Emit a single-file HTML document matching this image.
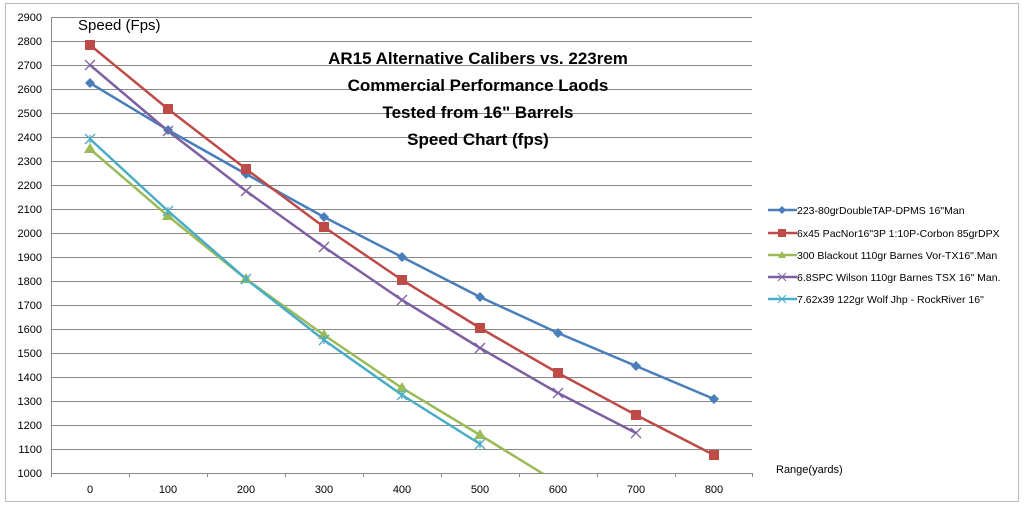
<!DOCTYPE html><html><head><style>body{margin:0;background:#fff}svg{display:block;font-family:"Liberation Sans",sans-serif}</style></head><body>
<svg width="1024" height="508" xmlns="http://www.w3.org/2000/svg">
<rect x="5.5" y="3.5" width="1013" height="498" fill="#fff" stroke="#bbb"/>
<defs><clipPath id="c"><rect x="51" y="10" width="710" height="463"/></clipPath></defs>
<g stroke="#888" stroke-width="1">
<line x1="51" x2="752" y1="17.5" y2="17.5"/><line x1="51" x2="752" y1="41.5" y2="41.5"/><line x1="51" x2="752" y1="65.5" y2="65.5"/><line x1="51" x2="752" y1="89.5" y2="89.5"/><line x1="51" x2="752" y1="113.5" y2="113.5"/><line x1="51" x2="752" y1="137.5" y2="137.5"/><line x1="51" x2="752" y1="161.5" y2="161.5"/><line x1="51" x2="752" y1="185.5" y2="185.5"/><line x1="51" x2="752" y1="209.5" y2="209.5"/><line x1="51" x2="752" y1="233.5" y2="233.5"/><line x1="51" x2="752" y1="257.5" y2="257.5"/><line x1="51" x2="752" y1="281.5" y2="281.5"/><line x1="51" x2="752" y1="305.5" y2="305.5"/><line x1="51" x2="752" y1="329.5" y2="329.5"/><line x1="51" x2="752" y1="353.5" y2="353.5"/><line x1="51" x2="752" y1="377.5" y2="377.5"/><line x1="51" x2="752" y1="401.5" y2="401.5"/><line x1="51" x2="752" y1="425.5" y2="425.5"/><line x1="51" x2="752" y1="449.5" y2="449.5"/><line x1="51" x2="752" y1="473.5" y2="473.5"/>
<line x1="51.5" x2="51.5" y1="17" y2="477"/>
<line x1="129.5" x2="129.5" y1="473" y2="477"/><line x1="207.5" x2="207.5" y1="473" y2="477"/><line x1="285.5" x2="285.5" y1="473" y2="477"/><line x1="363.5" x2="363.5" y1="473" y2="477"/><line x1="441.5" x2="441.5" y1="473" y2="477"/><line x1="519.5" x2="519.5" y1="473" y2="477"/><line x1="597.5" x2="597.5" y1="473" y2="477"/><line x1="675.5" x2="675.5" y1="473" y2="477"/><line x1="752.5" x2="752.5" y1="473" y2="477"/>
</g>
<g font-size="11" fill="#000" text-anchor="end">
<text x="42" y="21">2900</text><text x="42" y="45">2800</text><text x="42" y="69">2700</text><text x="42" y="93">2600</text><text x="42" y="117">2500</text><text x="42" y="141">2400</text><text x="42" y="165">2300</text><text x="42" y="189">2200</text><text x="42" y="213">2100</text><text x="42" y="237">2000</text><text x="42" y="261">1900</text><text x="42" y="285">1800</text><text x="42" y="309">1700</text><text x="42" y="333">1600</text><text x="42" y="357">1500</text><text x="42" y="381">1400</text><text x="42" y="405">1300</text><text x="42" y="429">1200</text><text x="42" y="453">1100</text><text x="42" y="477">1000</text>
</g>
<g font-size="11" text-anchor="middle"><text x="90" y="493">0</text><text x="168" y="493">100</text><text x="246" y="493">200</text><text x="324" y="493">300</text><text x="402" y="493">400</text><text x="480" y="493">500</text><text x="558" y="493">600</text><text x="636" y="493">700</text><text x="714" y="493">800</text></g>
<text x="78" y="30" font-size="15">Speed (Fps)</text>
<text x="776" y="473" font-size="11">Range(yards)</text>
<g font-size="17" font-weight="bold" text-anchor="middle"><text x="478" y="64">AR15 Alternative Calibers vs. 223rem</text><text x="478" y="91">Commercial Performance Laods</text><text x="478" y="118">Tested from  16" Barrels</text><text x="478" y="145">Speed Chart (fps)</text></g>
<g clip-path="url(#c)" fill="none" stroke-width="2.5">
<polyline stroke="#4a7ebb" points="90,83 168,130 246,174 324,217 402,257 480,297 558,333 636,366 714,399"/>
<polyline stroke="#be4b48" points="90,45 168,109 246,169 324,227 402,280 480,328 558,373 636,415 714,455"/>
<polyline stroke="#9bbb59" points="90,149 168,216 246,279 324,335 402,388 480,435 558,483"/>
<polyline stroke="#7d60a0" points="90,65 168,131 246,191 324,247 402,300 480,348 558,393 636,433"/>
<polyline stroke="#4bacc6" points="90,139 168,211 246,279 324,340 402,395 480,444"/>
</g>
<g fill="#4a7ebb"><path d="M90,78l5,5-5,5-5-5z M168,125l5,5-5,5-5-5z M246,169l5,5-5,5-5-5z M324,212l5,5-5,5-5-5z M402,252l5,5-5,5-5-5z M480,292l5,5-5,5-5-5z M558,328l5,5-5,5-5-5z M636,361l5,5-5,5-5-5z M714,394l5,5-5,5-5-5z"/></g>
<g fill="#be4b48"><rect x="85" y="40" width="10" height="10"/><rect x="163" y="104" width="10" height="10"/><rect x="241" y="164" width="10" height="10"/><rect x="319" y="222" width="10" height="10"/><rect x="397" y="275" width="10" height="10"/><rect x="475" y="323" width="10" height="10"/><rect x="553" y="368" width="10" height="10"/><rect x="631" y="410" width="10" height="10"/><rect x="709" y="450" width="10" height="10"/></g>
<g fill="#9bbb59"><path d="M90,143l6,10h-12z M168,210l6,10h-12z M246,273l6,10h-12z M324,329l6,10h-12z M402,382l6,10h-12z M480,429l6,10h-12z"/></g>
<g stroke="#7d60a0" stroke-width="1.3"><path d="M85,60l10,10m0-10l-10,10 M163,126l10,10m0-10l-10,10 M241,186l10,10m0-10l-10,10 M319,242l10,10m0-10l-10,10 M397,295l10,10m0-10l-10,10 M475,343l10,10m0-10l-10,10 M553,388l10,10m0-10l-10,10 M631,428l10,10m0-10l-10,10"/></g>
<g stroke="#4bacc6" stroke-width="1.3"><path d="M85,134l10,10m0-10l-10,10m5-1v-8 M163,206l10,10m0-10l-10,10m5-1v-8 M241,274l10,10m0-10l-10,10m5-1v-8 M319,335l10,10m0-10l-10,10m5-1v-8 M397,390l10,10m0-10l-10,10m5-1v-8 M475,439l10,10m0-10l-10,10m5-1v-8"/></g>
<g font-size="10.5">
<line x1="768" x2="797" y1="210" y2="210" stroke="#4a7ebb" stroke-width="2.5"/><path d="M782,206l4,4-4,4-4-4z" fill="#4a7ebb"/><text x="797" y="214">223-80grDoubleTAP-DPMS 16"Man</text>
<line x1="768" x2="797" y1="233" y2="233" stroke="#be4b48" stroke-width="2.5"/><rect x="778" y="229" width="8" height="8" fill="#be4b48"/><text x="797" y="237">6x45 PacNor16"3P 1:10P-Corbon 85grDPX</text>
<line x1="768" x2="797" y1="255" y2="255" stroke="#9bbb59" stroke-width="2.5"/><path d="M782,251l4,7h-8z" fill="#9bbb59"/><text x="797" y="259">300 Blackout 110gr Barnes Vor-TX16".Man</text>
<line x1="768" x2="797" y1="277" y2="277" stroke="#7d60a0" stroke-width="2.5"/><path d="M778,273l8,8m0-8l-8,8" stroke="#7d60a0"/><text x="797" y="281">6.8SPC Wilson 110gr Barnes TSX 16" Man.</text>
<line x1="768" x2="797" y1="299" y2="299" stroke="#4bacc6" stroke-width="2.5"/><path d="M778,295l8,8m0-8l-8,8" stroke="#4bacc6"/><text x="797" y="303">7.62x39 122gr Wolf Jhp - RockRiver 16"</text>
</g>
</svg></body></html>
